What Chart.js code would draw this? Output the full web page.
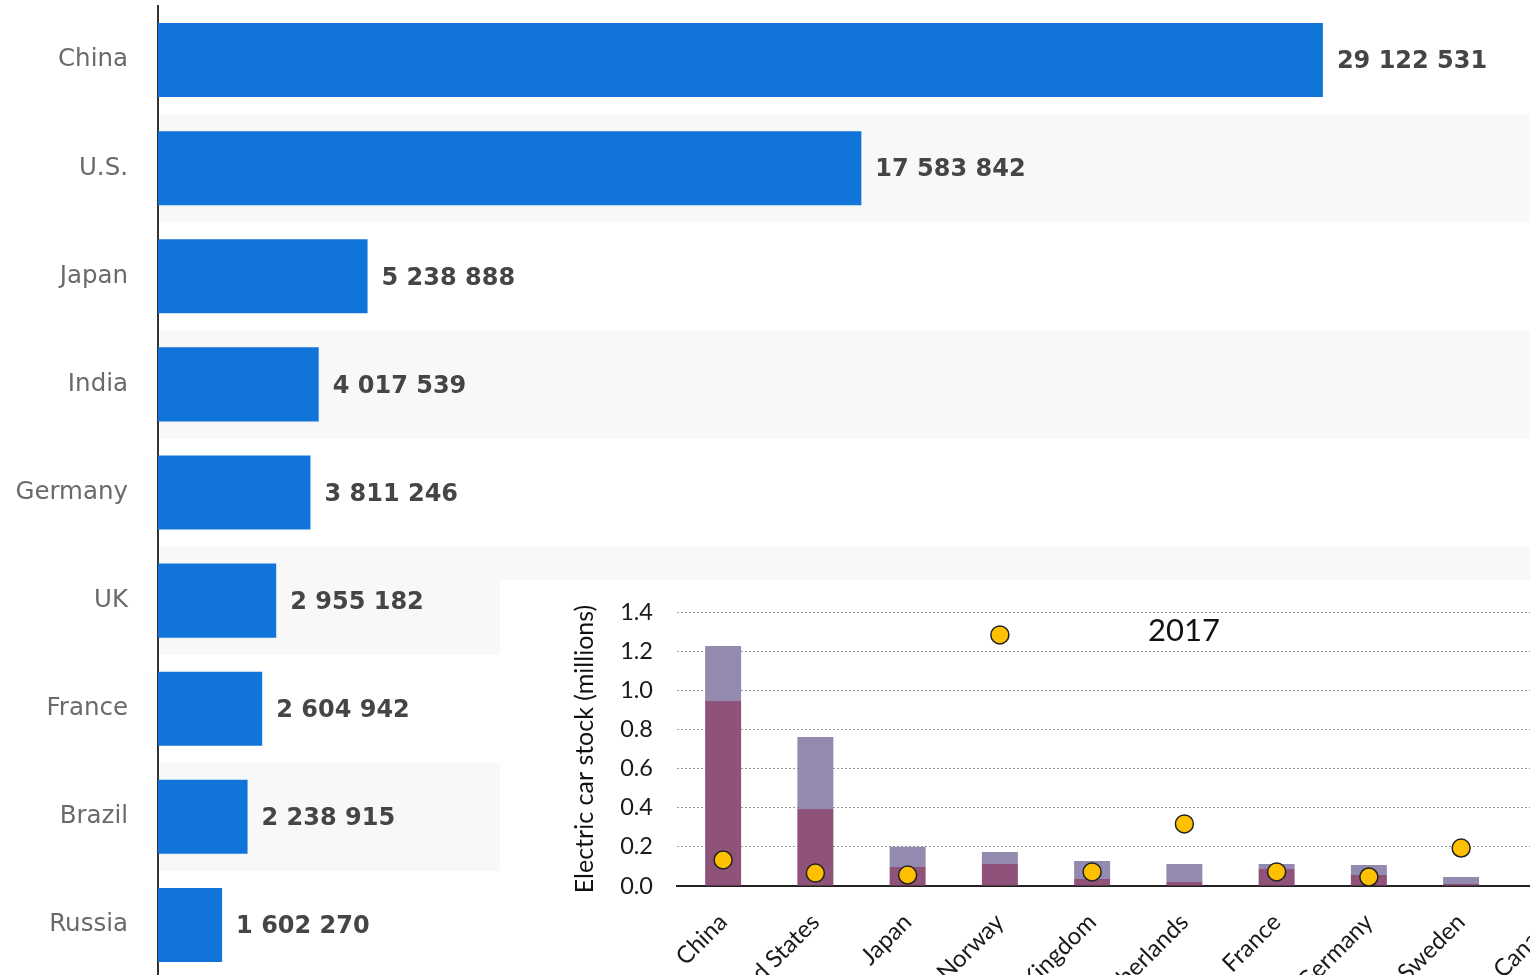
<!DOCTYPE html>
<html>
<head>
<meta charset="utf-8">
<script src="https://cdn.jsdelivr.net/npm/chart.js@4/dist/chart.umd.min.js"></script>
<style>
    html, body { margin: 0; padding: 0; background: #fff; overflow: hidden; }
    #wrap { position: relative; width: 1530px; height: 975px; overflow: hidden; }
    #main { position: absolute; left: 0; top: 0; }
    #inset { position: absolute; left: 500px; top: 580px; width: 1030px; height: 395px; background: #fff; overflow: hidden; }
    #stock { position: absolute; left: 0; top: 0; }
    #year { position: absolute; left: 1148px; top: 609px; font: 31px Lato, sans-serif; color: #111; line-height: 40px; }
</style>
</head>
<body>
<div id="wrap">
    <canvas id="main" width="1530" height="979"></canvas>
    <div id="inset">
        <canvas id="stock" width="1110" height="420"></canvas>
    </div>
    <div id="year">2017</div>
</div>
<script>
// main chart: vehicles by country
const countries = ['China', 'U.S.', 'Japan', 'India', 'Germany', 'UK', 'France', 'Brazil', 'Russia']
const vehicles = [29122531, 17583842, 5238888, 4017539, 3811246, 2955182, 2604942, 2238915, 1602270]

// inset: electric car stock 2017 (millions)
const evCountries = ['China', 'United States', 'Japan', 'Norway', 'United Kingdom', 'Netherlands', 'France', 'Germany', 'Sweden', 'Canada']
const bev = [0.945, 0.393, 0.097, 0.112, 0.036, 0.02, 0.087, 0.056, 0.01, 0.03]
const phev = [0.281, 0.368, 0.103, 0.062, 0.092, 0.092, 0.025, 0.051, 0.036, 0.02]
const share = [0.133, 0.066, 0.056, 1.283, 0.072, 0.317, 0.072, 0.046, 0.194, 0.05]
const evTicks = [0, 0.2, 0.4, 0.6, 0.8, 1.0, 1.2, 1.4]

function fmt(n) {
    return String(n).replace(/\B(?=(\d{3})+(?!\d))/g, ' ')
}

// keep tick label padding from eating into the plot area
function noEdgePad(s) {
    s.paddingTop = 0
    s.paddingBottom = 0
    s.paddingLeft = 0
    s.paddingRight = 0
}

const bands = {
    id: 'bands',
    beforeDraw(chart) {
        const { ctx, chartArea } = chart
        const y = chart.scales.y
        const step = y.getPixelForValue(1) - y.getPixelForValue(0)
        ctx.save()
        ctx.fillStyle = '#f8f8f8'
        countries.forEach((c, i) => {
            if (i % 2 == 1) {
                const cy = y.getPixelForValue(i)
                ctx.fillRect(chartArea.left, cy - step / 2, chartArea.right - chartArea.left, step)
            }
        })
        ctx.restore()
    },
}

const valueLabels = {
    id: 'valueLabels',
    afterDatasetsDraw(chart) {
        const { ctx } = chart
        const meta = chart.getDatasetMeta(0)
        ctx.save()
        ctx.font = 'bold 24px "DejaVu Sans"'
        ctx.fillStyle = '#454545'
        ctx.textBaseline = 'middle'
        meta.data.forEach((bar, i) => {
            ctx.fillText(fmt(vehicles[i]), bar.x + 14, bar.y + 2)
        })
        ctx.restore()
    },
}

new Chart(document.getElementById('main'), {
    type: 'bar',
    data: {
        labels: countries,
        datasets: [
            {
                data: vehicles,
                backgroundColor: '#1074d9',
                barPercentage: 0.685,
                categoryPercentage: 1,
            },
        ],
    },
    options: {
        indexAxis: 'y',
        responsive: false,
        animation: false,
        layout: { padding: { top: 6, right: 0, bottom: 0, left: 0 } },
        plugins: { legend: { display: false }, tooltip: { enabled: false } },
        scales: {
            x: {
                min: 0,
                max: 34300000,
                ticks: { display: false, stepSize: 5000000 },
                afterBuildTicks: (s) => {
                    s.ticks = s.ticks.filter((t) => t.value > 0 && t.value % 5000000 == 0)
                },
                afterFit: noEdgePad,
                grid: { color: '#c4c4c4', drawTicks: false },
                border: { display: false, dash: [2, 2] },
            },
            y: {
                grid: { display: false, drawTicks: false },
                border: { display: true, color: '#333', width: 2 },
                ticks: { padding: 30, color: '#6a6a6a', font: { family: 'DejaVu Sans', size: 24.5 } },
                afterFit: (s) => {
                    s.width = 158
                    noEdgePad(s)
                },
            },
        },
    },
    plugins: [bands, valueLabels],
})

new Chart(document.getElementById('stock'), {
    data: {
        labels: evCountries,
        datasets: [
            {
                type: 'line',
                data: share,
                showLine: false,
                pointRadius: 9,
                pointBackgroundColor: '#ffc000',
                pointBorderColor: '#222',
                pointBorderWidth: 1.5,
                stack: 'pts',
                order: 0,
            },
            {
                type: 'bar',
                data: bev,
                backgroundColor: '#8f5279',
                barPercentage: 0.39,
                categoryPercentage: 1,
                stack: 'ev',
                order: 1,
            },
            {
                type: 'bar',
                data: phev,
                backgroundColor: '#948ab0',
                barPercentage: 0.39,
                categoryPercentage: 1,
                stack: 'ev',
                order: 1,
            },
        ],
    },
    options: {
        responsive: false,
        animation: false,
        layout: { padding: { top: 32, right: 0, bottom: 0, left: 0 } },
        plugins: { legend: { display: false }, tooltip: { enabled: false } },
        scales: {
            x: {
                stacked: true,
                grid: { display: false, drawTicks: false },
                border: { display: true, color: '#222', width: 2 },
                ticks: {
                    autoSkip: false,
                    minRotation: 45,
                    maxRotation: 45,
                    padding: 22,
                    color: '#1a1a1a',
                    font: { family: 'Lato', size: 24 },
                },
                afterFit: (s) => {
                    s.height = 114
                    noEdgePad(s)
                },
            },
            y: {
                stacked: true,
                min: 0,
                max: 1.4,
                afterBuildTicks: (s) => {
                    s.ticks = evTicks.map((v) => ({ value: v }))
                },
                ticks: {
                    padding: 24,
                    color: '#1a1a1a',
                    font: { family: 'Lato', size: 23.5 },
                    callback: (v) => Number(v).toFixed(1),
                },
                grid: { color: '#999', drawTicks: false },
                border: { display: false, dash: [2, 2] },
                title: {
                    display: true,
                    text: 'Electric car stock (millions)',
                    color: '#111',
                    font: { family: 'Lato', size: 25 },
                    padding: { top: 70, bottom: 0 },
                },
                afterFit: (s) => {
                    s.width = 177
                    noEdgePad(s)
                },
            },
        },
    },
})
</script>
</body>
</html>
